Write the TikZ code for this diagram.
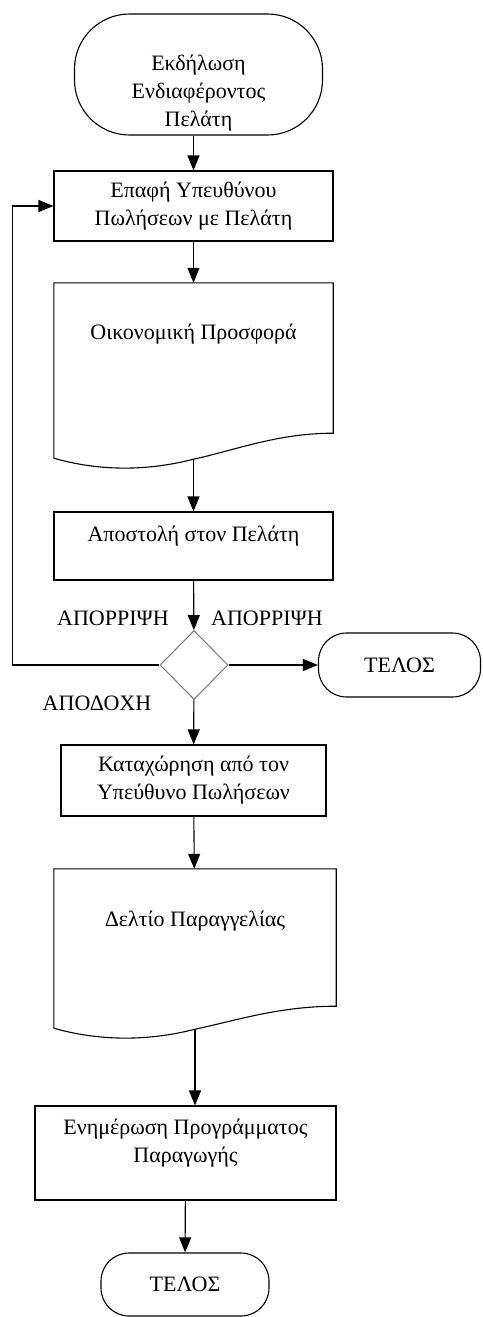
\documentclass[tikz,border=0pt]{standalone}
\usepackage{fontspec}
\setmainfont{Liberation Serif}
\usetikzlibrary{shapes.geometric, arrows.meta, calc}

% document symbol: straight top and sides, wavy bottom
\newcommand{\docshape}[3]{%
	\draw[line width=1.1pt] (#1.south west) -- (#1.north west) -- (#1.north east) -- ([yshift=#3]#1.south east)
	.. controls +(-0.2*#2,0) and +(0.15*#2,9) .. ([yshift=-1]#1.south) coordinate (#1-w)
	.. controls +(-0.18*#2,-13) and +(0.15*#2,-12) .. (#1.south west);
}

\begin{document}
\begin{tikzpicture}[x=1pt, y=1pt,
	every node/.style={font=\fontsize{22}{28}\selectfont, align=center},
	box/.style={draw, rectangle, line width=1.1pt, inner sep=0pt},
	term/.style={draw, rectangle, line width=1.1pt, inner sep=0pt},
	doc/.style={rectangle, inner sep=0pt},
	choice/.style={draw=gray, diamond, line width=1.1pt, inner sep=0pt, minimum width=68, minimum height=69},
	arr/.style={line width=1.1pt, -{Triangle[length=15pt,width=12pt]}}]
	
	\useasboundingbox (0,0) rectangle (482,-1317);
	
	%//main column
	\node[term, rounded corners=55, minimum width=248, minimum height=121, text height=109pt, text depth=6pt] (start) at (198.5,-74.5) {Εκδήλωση\\Ενδιαφέροντος\\Πελάτη};
	\node[box, minimum width=279, minimum height=70] (contact) at (193.5,-206) {Επαφή Υπευθύνου\\Πωλήσεων με Πελάτη};
	\node[doc, minimum width=279, minimum height=175, text depth=77pt] (offer) at (193.5,-370.5) {Οικονομική Προσφορά};
	\docshape{offer}{279}{25}
	\node[box, minimum width=279, minimum height=68, text depth=25pt] (send) at (193.5,-546) {Αποστολή στον Πελάτη};
	\node[choice] (dec) at (194,-665) {};
	\node[term, rounded corners=28, minimum width=162, minimum height=64] (endA) at (399.5,-665) {ΤΕΛΟΣ};
	\node[box, minimum width=265, minimum height=71] (accept) at (193.5,-780.5) {Καταχώρηση από τον\\Υπεύθυνο Πωλήσεων};
	\node[doc, minimum width=282, minimum height=159, text depth=59pt] (order) at (195,-948.5) {Δελτίο Παραγγελίας};
	\docshape{order}{282}{22}
	\node[box, minimum width=301, minimum height=94, text depth=24pt] (update) at (185.5,-1153) {Ενημέρωση Προγράμματος\\Παραγωγής};
	\node[term, rounded corners=28, minimum width=168, minimum height=63] (endB) at (185,-1284.5) {ΤΕΛΟΣ};
	
	%//decision labels
	\node (rejL) at (113,-618) {ΑΠΟΡΡΙΨΗ};
	\node (rejR) at (267,-618) {ΑΠΟΡΡΙΨΗ};
	\node (acc) at (97,-703) {ΑΠΟΔΟΧΗ};
	
	\draw[arr] (start.south -| contact) -- (contact);
	\foreach \a/\b in {contact/offer, offer-w/send, send/dec, dec/endA, dec/accept, accept/order, update/endB}
	\draw[arr] (\a) -- (\b);
	\draw[arr] (order-w) -- (order-w |- update.north);
	\draw[arr] (dec.west) -- ++(-147,0) |- (contact.west);
	
\end{tikzpicture}
\end{document}
